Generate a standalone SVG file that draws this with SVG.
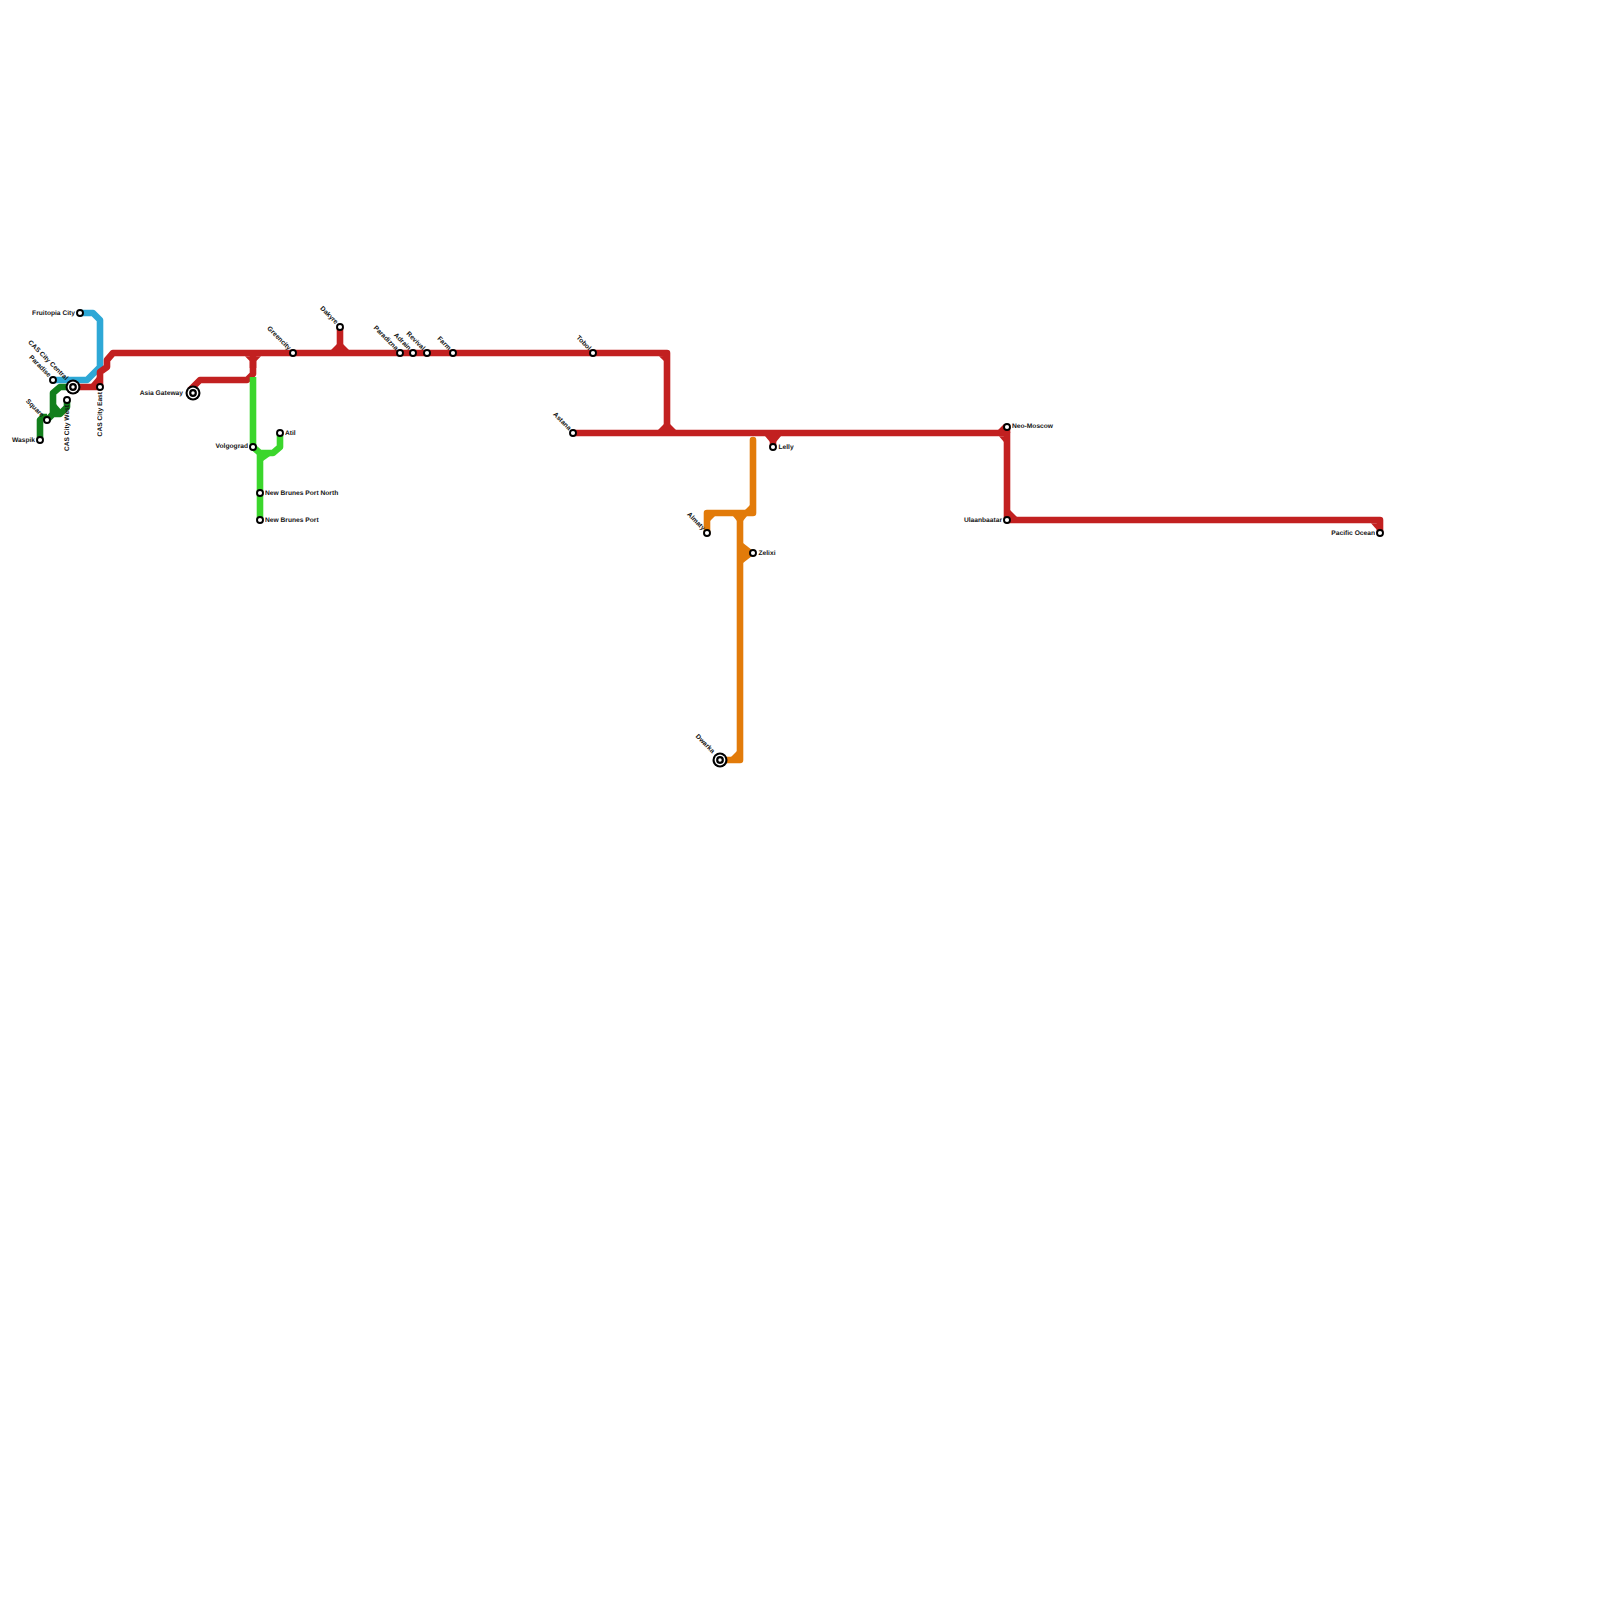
<svg xmlns="http://www.w3.org/2000/svg" width="1600" height="1600" viewBox="0 0 1600 1600">
<style>
.l{fill:none;stroke-width:6.6;stroke-linejoin:round;stroke-linecap:butt}
.red{stroke:#c22020}.blue{stroke:#2ea8d6}.dg{stroke:#127f1c}.lg{stroke:#3bd62c}.or{stroke:#e27b0a}
.rf{fill:#c22020}.of{fill:#e27b0a}.lf{fill:#3bd62c}.df{fill:#127f1c}
.s{fill:#fff;stroke:#000;stroke-width:1.9}
.i{fill:#fff;stroke:#000;stroke-width:2.2}
.c{fill:#000}
text{font-family:"Liberation Sans",Arial,sans-serif;font-size:6.67px;font-weight:700;fill:#111;text-rendering:geometricPrecision;opacity:.99}
.e{text-anchor:end}
</style>
<rect width="1600" height="1600" fill="#fff"/>
<g id="connectors">
<path class="l blue" d="M80 313H93L100 320V367L87 380H53"/>
<path class="l dg" d="M40 440V420L43 417H47M47 420L53 414H60L67 407V400"/>
<path class="l dg" d="M53 414V393L60 387H73"/>
<path class="df" d="M56 404L62 411H56Z"/>
<path class="l red" d="M73 387H100V372L107 367V360L113 353H667V433"/>
<path class="rf" d="M91 384L97 377V384Z"/>
<path class="rf" d="M659 356.300L664 361V356Z"/>
<path class="l red" d="M190 390L200 380H247L253 374V353"/>
<path class="rf" d="M245 356.300H261L256.300 361V368H249.700V361Z"/>
<path class="l red" d="M340 327V353"/>
<path class="rf" d="M331 350L337 344H343L349 350Z"/>
<path class="l red" d="M573 433H1007V520H1380V533"/>
<path class="rf" d="M658 430L664 424H670L676 430Z"/>
<path class="l red" d="M773 447V433"/>
<path class="rf" d="M765 436H781L776 442V447H770V442Z"/>
<path class="l red" d="M1007 433V427"/>
<path class="rf" d="M998 430L1004 424V430ZM999 436.300H1004V442Z"/>
<path class="rf" d="M1010 510L1017 517H1010Z"/>
<path class="rf" d="M1371 523.300H1377V530Z"/>
<path class="l lg" d="M253 377V447L260 453H273L280 447V433"/>
<path class="l lg" d="M260 520V453"/>
<path class="lf" d="M263 456H270L263 461Z"/>
<path class="l or" style="stroke-linecap:round" d="M707 533V513H753V440"/>
<path class="l or" d="M740 513V760H720"/>
<path class="of" d="M745 510L750 505V510ZM733 516H747L743 521H737ZM710 516H715L710 521Z"/>
<path class="of" d="M743 543L752 550L753 553L752 556L743 563Z"/>
<path class="of" d="M737 751V757H731Z"/>
</g>
<g id="fruitopia-city"><circle class="s" cx="80" cy="313" r="3"/><text class="e" x="75" y="315">Fruitopia City</text></g>
<g id="paradise"><circle class="s" cx="53" cy="380" r="3"/><text class="e" transform="translate(48.500 377.500) rotate(45)">Paradise</text></g>
<g id="cas-city-central"><circle class="c" cx="73" cy="387" r="7.500"/><circle fill="#fff" cx="73" cy="387" r="5.400"/><circle class="i" cx="73" cy="387" r="2.800"/><text class="e" transform="translate(65.500 380.500) rotate(45)">CAS City Central</text></g>
<g id="cas-city-west"><circle class="s" cx="67" cy="400" r="3"/><text class="e" transform="translate(68.500 405) rotate(-90)">CAS City West</text></g>
<g id="cas-city-east"><circle class="s" cx="100" cy="387" r="3"/><text class="e" transform="translate(102 392) rotate(-90)">CAS City East</text></g>
<g id="square"><circle class="s" cx="47" cy="420" r="3"/><text class="e" transform="translate(41.500 417.500) rotate(45)">Square</text></g>
<g id="waspik"><circle class="s" cx="40" cy="440" r="3"/><text class="e" x="35" y="441.500">Waspik</text></g>
<g id="asia-gateway"><circle class="c" cx="193" cy="393" r="7.500"/><circle fill="#fff" cx="193" cy="393" r="5.400"/><circle class="i" cx="193" cy="393" r="2.800"/><text class="e" x="183" y="395">Asia Gateway</text></g>
<g id="greencity"><circle class="s" cx="293" cy="353" r="3"/><text class="e" transform="translate(288.500 350.500) rotate(45)">Greencity</text></g>
<g id="dakyre"><circle class="s" cx="340" cy="327" r="3"/><text class="e" transform="translate(335.500 324.500) rotate(45)">Dakyre</text></g>
<g id="paradizna"><circle class="s" cx="400" cy="353" r="3"/><text class="e" transform="translate(395.500 350.500) rotate(45)">Paradizna</text></g>
<g id="adrain"><circle class="s" cx="413" cy="353" r="3"/><text class="e" transform="translate(408.500 350.500) rotate(45)">Adrain</text></g>
<g id="revival"><circle class="s" cx="427" cy="353" r="3"/><text class="e" transform="translate(422.500 350.500) rotate(45)">Revival</text></g>
<g id="farm"><circle class="s" cx="453" cy="353" r="3"/><text class="e" transform="translate(448.500 350.500) rotate(45)">Farm</text></g>
<g id="tobol"><circle class="s" cx="593" cy="353" r="3"/><text class="e" transform="translate(588.500 350.500) rotate(45)">Tobol</text></g>
<g id="astana"><circle class="s" cx="573" cy="433" r="3"/><text class="e" transform="translate(568.500 430.500) rotate(45)">Astana</text></g>
<g id="volgograd"><circle class="s" cx="253" cy="447" r="3"/><text class="e" x="248" y="448">Volgograd</text></g>
<g id="atil"><circle class="s" cx="280" cy="433" r="3"/><text x="285" y="435">Atil</text></g>
<g id="new-brunes-port-north"><circle class="s" cx="260" cy="493" r="3"/><text x="265" y="495">New Brunes Port North</text></g>
<g id="new-brunes-port"><circle class="s" cx="260" cy="520" r="3"/><text x="265" y="521.500">New Brunes Port</text></g>
<g id="lelly"><circle class="s" cx="773" cy="447" r="3"/><text x="778.500" y="448.500">Lelly</text></g>
<g id="almaty"><circle class="s" cx="707" cy="533" r="3"/><text class="e" transform="translate(702.500 530.500) rotate(45)">Almaty</text></g>
<g id="zelixi"><circle class="s" cx="753" cy="553" r="3"/><text x="758.500" y="555">Zelixi</text></g>
<g id="dwarka"><circle class="c" cx="720" cy="760" r="7.500"/><circle fill="#fff" cx="720" cy="760" r="5.400"/><circle class="i" cx="720" cy="760" r="2.800"/><text class="e" transform="translate(712 753.500) rotate(45)">Dwarka</text></g>
<g id="neo-moscow"><circle class="s" cx="1007" cy="427" r="3"/><text x="1012" y="428">Neo-Moscow</text></g>
<g id="ulaanbaatar"><circle class="s" cx="1007" cy="520" r="3"/><text class="e" x="1002" y="521.500">Ulaanbaatar</text></g>
<g id="pacific-ocean"><circle class="s" cx="1380" cy="533" r="3"/><text class="e" x="1375" y="535">Pacific Ocean</text></g>
</svg>
